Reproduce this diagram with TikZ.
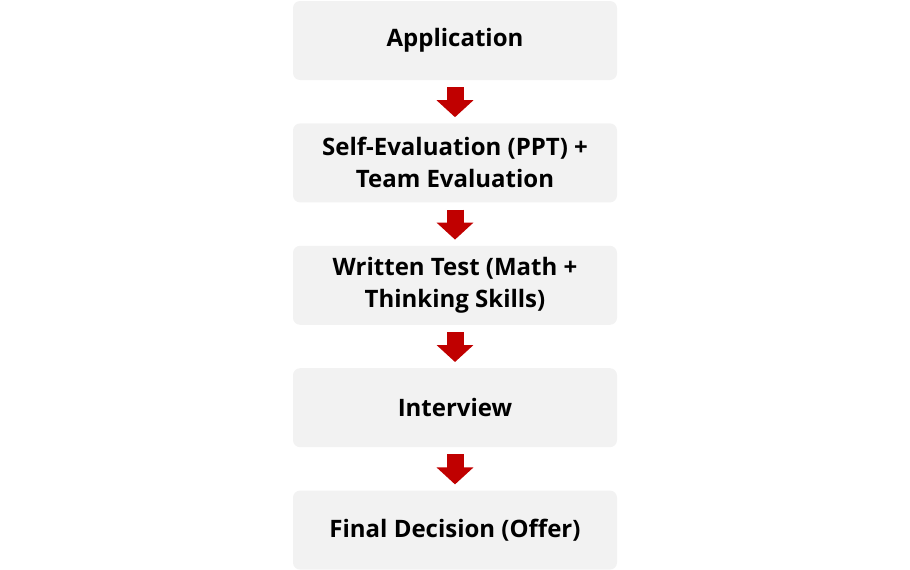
\documentclass[tikz,border=0pt]{standalone}
\usepackage{fontspec}
\setsansfont{Open Sans}
\usepackage{tikz}
\usetikzlibrary{arrows.meta, positioning}
\definecolor{FillStep}{RGB}{242, 242, 242}
\definecolor{ArrowRed}{RGB}{192, 0, 0}

\begin{document}
\begin{tikzpicture}[
        % Style des etapes
        stepbox/.style={align=center, fill=FillStep, rounded corners=7bp,
            minimum width=324bp, minimum height=79bp, inner sep=0pt,
            font=\sffamily\bfseries\fontsize{24bp}{32bp}\selectfont},
        % Style des fleches
        flowarrow/.style={-{Triangle[width=36bp, length=17bp]}, line width=17bp, ArrowRed},
        node distance=43bp
    ]

    % --- CADRE ---
    \useasboundingbox (0,0) rectangle (910bp,-570bp);

    % --- ETAPES ---
    \node[stepbox] (app) at (455bp,-40.5bp) {Application};
    \node[stepbox, below=of app] (self) {Self-Evaluation (PPT) +\\Team Evaluation};
    \node[stepbox, below=of self] (test) {Written Test (Math +\\Thinking Skills)};
    \node[stepbox, below=of test] (interview) {Interview};
    \node[stepbox, below=of interview] (offer) {Final Decision (Offer)};

    % --- FLECHES ---
    \foreach \a/\b in {app/self, self/test, test/interview, interview/offer}
        \draw[flowarrow] ([yshift=-7bp]\a.south) -- ([yshift=6bp]\b.north);

\end{tikzpicture}
\end{document}
